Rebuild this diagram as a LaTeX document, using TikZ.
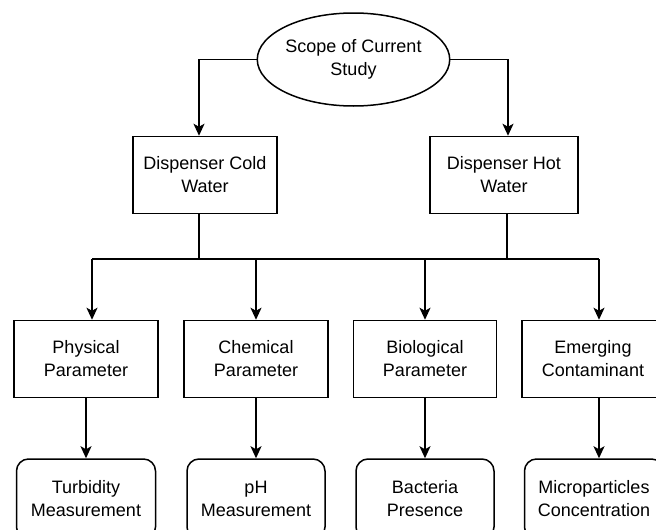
\documentclass[tikz,border=0pt]{standalone}
\usepackage{fontspec}
\setmainfont{Liberation Sans}
\usetikzlibrary{shapes.geometric,arrows.meta}

\begin{document}
\begin{tikzpicture}[x=1pt,y=-1pt,line width=1.5pt,
  txt/.style={align=center, font=\fontsize{18}{23}\selectfont},
  box/.style={txt, draw, rectangle, minimum width=144pt, minimum height=77pt, inner sep=0pt},
  rbox/.style={txt, draw, rectangle, rounded corners=12pt, minimum width=139pt, minimum height=80pt, inner sep=0pt},
  arr/.style={-{Stealth[length=12pt,width=11pt,inset=3pt]}}]
\useasboundingbox (0,0) rectangle (656,530);
\clip (0,0) rectangle (656,530);
\node[txt, draw, ellipse, minimum width=153pt, minimum height=93pt, inner sep=0pt] (scope) at (353.5,59.5){Scope of Current\\Study};
\node[box] (cold) at (205,175){Dispenser Cold\\Water};
\node[box, minimum width=148pt] (hot) at (504,175){Dispenser Hot\\Water};
\draw[arr](scope.west) -| ([xshift=-6pt]cold.north);
\draw[arr](scope.east) -| ([xshift=4pt]hot.north);
\coordinate (busl) at (92,259);
\coordinate (busr) at (599,259);
\draw[](busl) -- (busr);
\draw[]([xshift=-6pt]cold.south) -- ([xshift=-6pt]cold.south |- busl);
\draw[]([xshift=3pt]hot.south) -- ([xshift=3pt]hot.south |- busl);
\node[box] (phy) at (86,359){Physical\\Parameter};
\node[box] (chem) at (256,359){Chemical\\Parameter};
\node[box, minimum width=143pt] (bio) at (425,359){Biological\\Parameter};
\node[box, minimum width=142pt] (emg) at (593,359){Emerging\\Contaminant};
\draw[arr](busl) -- ([xshift=6pt]phy.north);
\draw[arr](chem.north |- busl) -- (chem.north);
\draw[arr](bio.north |- busl) -- (bio.north);
\draw[arr](busr) -- ([xshift=6pt]emg.north);
\node[rbox] (turb) at (86,499){Turbidity\\Measurement};
\node[rbox, minimum width=138pt] (ph) at (256,499){pH\\Measurement};
\node[rbox, minimum width=138pt] (bact) at (425,499){Bacteria\\Presence};
\node[rbox] (micro) at (594,499){Microparticles\\Concentration};
\draw[arr](phy.south) -- (turb.north);
\draw[arr](chem.south) -- (ph.north);
\draw[arr](bio.south) -- (bact.north);
\draw[arr]([xshift=6pt]emg.south) -- ([xshift=5pt]micro.north);
\end{tikzpicture}
\end{document}
